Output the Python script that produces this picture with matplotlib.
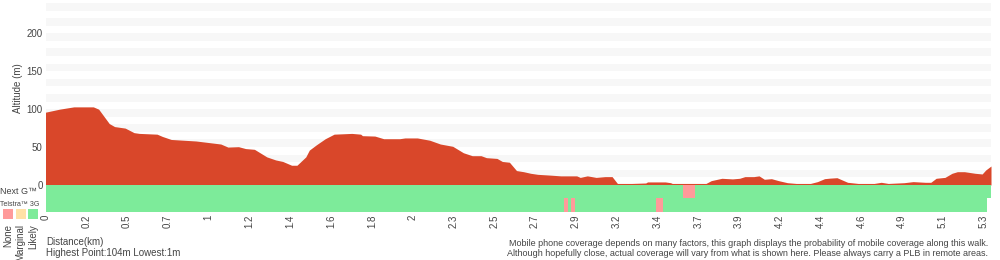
import matplotlib
matplotlib.use('Agg')
import matplotlib.pyplot as plt
from matplotlib.patches import Rectangle

plt.rcParams['font.family'] = ['Liberation Sans', 'DejaVu Sans']

# Elevation profile (km, m)
dist_km = [0.0, 0.08, 0.16, 0.27, 0.30, 0.36, 0.39, 0.45, 0.50, 0.53, 0.63, 0.66, 0.71,
           0.85, 0.92, 0.99, 1.03, 1.09, 1.13, 1.18, 1.25, 1.30, 1.34, 1.39, 1.42, 1.47,
           1.49, 1.53, 1.58, 1.63, 1.73, 1.78, 1.79, 1.86, 1.91, 2.00, 2.03, 2.10, 2.17,
           2.23, 2.30, 2.36, 2.41, 2.46, 2.49, 2.55, 2.58, 2.62, 2.66, 2.70, 2.74, 2.78,
           2.85, 2.91, 3.00, 3.02, 3.06, 3.11, 3.16, 3.20, 3.23, 3.31, 3.39, 3.40, 3.50,
           3.53, 3.54, 3.73, 3.76, 3.82, 3.88, 3.92, 3.95, 4.00, 4.03, 4.06, 4.10, 4.14,
           4.19, 4.24, 4.32, 4.36, 4.40, 4.43, 4.47, 4.53, 4.59, 4.68, 4.72, 4.76, 4.85,
           4.90, 4.97, 5.00, 5.03, 5.08, 5.12, 5.15, 5.19, 5.25, 5.29, 5.31, 5.34]
altitude = [96, 100, 103, 103, 100, 81, 77, 75, 69, 68, 67, 64, 60,
            58, 56, 54, 50, 50.5, 48, 47, 37, 33, 31, 26, 26, 37,
            46, 53, 61, 67, 68, 67, 65, 64.5, 61, 61, 62, 62, 59,
            54, 51, 42.5, 38.6, 38.6, 36, 35, 31, 30, 19, 17.5, 15.4, 14,
            13, 12, 12, 10, 12, 10, 11, 11, 2, 2, 2.6, 4, 4,
            3, 2, 2, 5.7, 8.8, 8, 8.8, 11, 11, 12, 7.5, 8.3, 5.7,
            3, 2, 2, 4.4, 8.3, 9, 9.6, 3.5, 2, 2, 3.5, 2, 3,
            4.4, 3.5, 3.5, 8.8, 10, 15.4, 17.5, 17.5, 15.4, 14.5, 19.7, 25]

# Distance tick labels (evenly spaced markers along the walk)
tick_step = 0.2304
tick_labels = ['0', '0.2', '0.5', '0.7', '1', '1.2', '1.4', '1.6', '1.8', '2', '2.3', '2.5',
               '2.7', '2.9', '3.2', '3.4', '3.7', '3.9', '4.2', '4.4', '4.6', '4.9', '5.1', '5.3']

# Coverage gaps (start km, end km) with "None" probability
nextg_none = [(3.60, 3.67)]
g3_none = [(2.93, 2.95), (2.97, 2.99), (3.45, 3.49)]
g3_end = 5.32

total_km = 5.34
y_top = 240
band = 17.5  # height of each coverage row in altitude units

red = '#d9472a'
green = '#7deb9a'
pink = '#ff9a9a'
yellow = '#ffe1a6'
stripe = '#f7f7f7'
txt = '#444444'

fig = plt.figure(figsize=(10, 2.6), dpi=100)
ax = fig.add_axes([0.0455, 1 - 211.5 / 260, 0.9455, (211.5 - 3) / 260])
ax.set_xlim(0, total_km)
ax.set_ylim(-2 * band, y_top)

for lo in range(10, y_top, 20):
    ax.axhspan(lo, lo + 10, color=stripe, lw=0, zorder=0)

ax.fill_between(dist_km, 0, altitude, color=red, lw=0, zorder=2)

# coverage rows
ax.add_patch(Rectangle((0, -band), total_km, band, color=green, lw=0, zorder=2))
ax.add_patch(Rectangle((0, -2 * band), g3_end, band, color=green, lw=0, zorder=2))
for a, b in nextg_none:
    ax.add_patch(Rectangle((a, -band), b - a, band, color=pink, lw=0, zorder=3))
for a, b in g3_none:
    ax.add_patch(Rectangle((a, -2 * band), b - a, band, color=pink, lw=0, zorder=3))

ax.set_yticks([0, 50, 100, 150, 200])
ax.set_xticks([i * tick_step for i in range(len(tick_labels))])
ax.set_xticklabels(tick_labels, rotation=90)
ax.tick_params(length=0, labelsize=7, colors=txt, pad=2)
for s in ax.spines.values():
    s.set_visible(False)

fig.text(18 / 1000, 1 - 88 / 260, 'Altitude (m)', rotation=90, ha='center', va='center',
         fontsize=7, color=txt)
fig.text(0.5 / 1000, 1 - 191 / 260, 'Next G™', ha='left', va='center', fontsize=6.5, color=txt)
fig.text(39 / 1000, 1 - 204.5 / 260, 'Telstra™ 3G', ha='right', va='center', fontsize=5, color=txt)

legend_cols = [pink, yellow, green]
legend_names = ['None', 'Marginal', 'Likely']
for i, (c, name) in enumerate(zip(legend_cols, legend_names)):
    x0 = 3 + i * 12.5
    fig.patches.append(Rectangle((x0 / 1000, 1 - 219 / 260), 10 / 1000, 10 / 260,
                                 transform=fig.transFigure, color=c, lw=0))
    fig.text((x0 + 5) / 1000, 1 - 224 / 260, name, rotation=90, ha='center', va='top',
             fontsize=7, color=txt)

fig.text(46 / 1000, 1 - 242 / 260, 'Distance(km)', ha='left', va='center', fontsize=7, color=txt)
fig.text(46 / 1000, 1 - 253 / 260, 'Highest Point:104m Lowest:1m', ha='left', va='center',
         fontsize=7, color=txt)
fig.text(988 / 1000, 1 - 243 / 260,
         'Mobile phone coverage depends on many factors, this graph displays the probability of mobile coverage along this walk.',
         ha='right', va='center', fontsize=6.5, color=txt)
fig.text(988 / 1000, 1 - 254 / 260,
         'Although hopefully close, actual coverage will vary from what is shown here. Please always carry a PLB in remote areas.',
         ha='right', va='center', fontsize=6.5, color=txt)

fig.savefig('out.png', dpi=100)
